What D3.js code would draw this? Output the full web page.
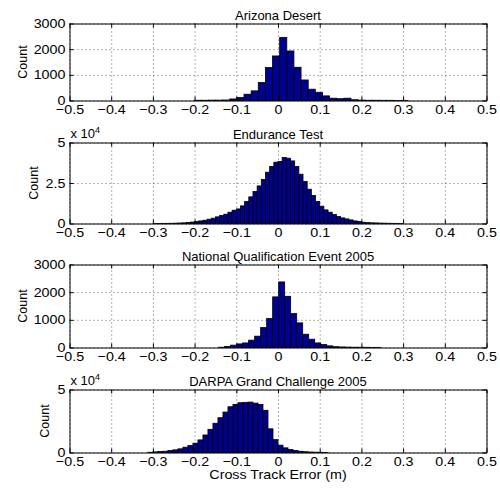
<!DOCTYPE html>
<html>
<head>
<meta charset="utf-8">
<script src="https://cdn.jsdelivr.net/npm/d3@7"></script>
<style>
  body { margin: 0; background: #fff; }
  svg { display: block; font-family: "Liberation Sans", Arial, sans-serif; }
  .axis .domain { stroke: #000; stroke-width: 1; }
  .axis line { stroke: #000; }
  .axis text { font-size: 13px; fill: #000; transform-box: fill-box; }
  .x-axis text { transform: scaleX(1.1); transform-origin: center; }
  .y-axis text { transform: scaleX(1.1); transform-origin: right center; }
  .grid line { stroke: #444; stroke-dasharray: 1, 3; stroke-opacity: 0.8; }
  .grid .domain { display: none; }
  .bar { fill: #00008f; stroke: #000; stroke-width: 0.8; }
  .title { font-size: 13px; text-anchor: middle; }
  .ylabel { font-size: 12.5px; text-anchor: middle; }
  .xlabel { font-size: 13px; text-anchor: middle; transform-box: fill-box; transform-origin: center; transform: scaleX(1.1); }
  .expo { font-size: 13px; }
</style>
</head>
<body>
<div id="chart"></div>
<script>

const titles = ["Arizona Desert", "Endurance Test", "National Qualification Event 2005", "DARPA Grand Challenge 2005"];
const xTickValues = [-0.5, -0.4, -0.3, -0.2, -0.1, 0, 0.1, 0.2, 0.3, 0.4, 0.5];

// histogram counts, one per bin
const arizonaCounts = [10, 10, 15, 15, 20, 60, 115, 245, 375, 700, 1285, 1735, 2460, 1930, 1295,
  800, 440, 320, 180, 90, 70, 90, 30, 15, 10, 10, 8, 8, 5, 5];
const enduranceCounts = [50, 60, 80, 100, 130, 200, 300, 400, 600, 900, 1235, 1600, 2040, 2650, 3270,
  4100, 4940, 5740, 6975, 8200, 9000, 10860, 13580, 16440, 19750, 23200, 27160, 31670, 35180, 37840,
  38270, 40740, 40300, 38640, 35180, 30430, 25900, 21170, 17280, 13580, 10680, 8400, 6975, 5550, 4320,
  3460, 2840, 2220, 1600, 1235, 800, 600, 400, 350, 250, 200, 150, 100, 80, 60];
const nqeCounts = [10, 40, 85, 130, 165, 265, 410, 720, 1045, 1830, 2370, 1850, 1225, 890, 480,
  300, 165, 105, 60, 30, 20, 15, 10, 10, 8, 5, 5];
const darpaCounts = [200, 500, 800, 1000, 1600, 2100, 2900, 4200, 5500, 7400, 10000, 13900, 18400, 23200, 27600,
  32100, 36300, 38200, 39500, 39800, 40000, 39200, 38200, 33500, 18800, 10200, 5800, 3700, 2400, 1600,
  1000, 600, 400, 250, 150, 100];

const allCounts = [arizonaCounts, enduranceCounts, nqeCounts, darpaCounts];
const binStarts = [-0.2012, -0.30, -0.1424, -0.312];
const binWidths = [0.0171, 0.01, 0.0144, 0.012];
const yMax = [3000, 50000, 3000, 50000];
const yTickValues = [[0, 1000, 2000, 3000], [0, 25000, 50000], [0, 1000, 2000, 3000], [0, 50000]];
const yExponent = [0, 4, 0, 4];

const width = 500, height = 488;
const left = 69.5, right = 486.5;
const layout = [
  { top: 23.5, bottom: 100.5, labelX: 22 },
  { top: 142.5, bottom: 223.5, labelX: 33 },
  { top: 264.5, bottom: 347.5, labelX: 22 },
  { top: 389.5, bottom: 452.5, labelX: 44 }
];

const svg = d3.select("#chart").append("svg")
  .attr("width", width)
  .attr("height", height);

const x = d3.scaleLinear().domain([-0.5, 0.5]).range([left, right]);
const xFormat = d => d === 0 ? "0" : d3.format(".1f")(d);

function drawPanel(i) {
  const { top, bottom, labelX } = layout[i];
  const y = d3.scaleLinear().domain([0, yMax[i]]).range([bottom, top]);
  const g = svg.append("g");

  // dotted grid under the bars
  g.append("g").attr("class", "grid")
    .attr("transform", `translate(0,${bottom})`)
    .call(d3.axisBottom(x).tickValues(xTickValues).tickSize(-(bottom - top)).tickFormat(""));
  g.append("g").attr("class", "grid")
    .attr("transform", `translate(${left},0)`)
    .call(d3.axisLeft(y).tickValues(yTickValues[i]).tickSize(-(right - left)).tickFormat(""));

  const bins = allCounts[i].map((c, k) => ({
    x0: binStarts[i] + k * binWidths[i],
    x1: binStarts[i] + (k + 1) * binWidths[i],
    count: c
  }));

  g.selectAll(".bar")
    .data(bins)
    .enter()
    .append("rect")
    .attr("class", "bar")
    .attr("x", d => x(d.x0))
    .attr("width", d => x(d.x1) - x(d.x0))
    .attr("y", d => y(d.count))
    .attr("height", d => y(0) - y(d.count));

  // box with inward ticks on all four sides
  g.append("g").attr("class", "axis x-axis")
    .attr("transform", `translate(0,${bottom})`)
    .call(d3.axisBottom(x).tickValues(xTickValues).tickSizeInner(-4).tickSizeOuter(0)
      .tickPadding(4).tickFormat(xFormat));
  g.append("g").attr("class", "axis")
    .attr("transform", `translate(0,${top})`)
    .call(d3.axisTop(x).tickValues(xTickValues).tickSizeInner(-4).tickSizeOuter(0).tickFormat(""));
  g.append("g").attr("class", "axis y-axis")
    .attr("transform", `translate(${left},0)`)
    .call(d3.axisLeft(y).tickValues(yTickValues[i]).tickSizeInner(-4).tickSizeOuter(0)
      .tickPadding(4).tickFormat(d => yExponent[i] ? d / Math.pow(10, yExponent[i]) : d));
  g.append("g").attr("class", "axis")
    .attr("transform", `translate(${right},0)`)
    .call(d3.axisRight(y).tickValues(yTickValues[i]).tickSizeInner(-4).tickSizeOuter(0).tickFormat(""));

  g.append("text")
    .attr("class", "title")
    .attr("x", (left + right) / 2)
    .attr("y", top - 4)
    .text(titles[i]);

  g.append("text")
    .attr("class", "ylabel")
    .attr("transform", `translate(${labelX},${(top + bottom) / 2}) rotate(-90)`)
    .attr("dy", "0.36em")
    .text("Count");

  if (yExponent[i]) {
    const t = g.append("text")
      .attr("class", "expo")
      .attr("x", left + 1)
      .attr("y", top - 5)
      .text("x 10");
    t.append("tspan")
      .attr("dy", -5)
      .attr("font-size", 9)
      .text(yExponent[i]);
  }
}

allCounts.forEach((c, i) => drawPanel(i));

svg.append("text")
  .attr("class", "xlabel")
  .attr("x", (left + right) / 2)
  .attr("y", 479)
  .text("Cross Track Error (m)");

</script>
</body>
</html>
